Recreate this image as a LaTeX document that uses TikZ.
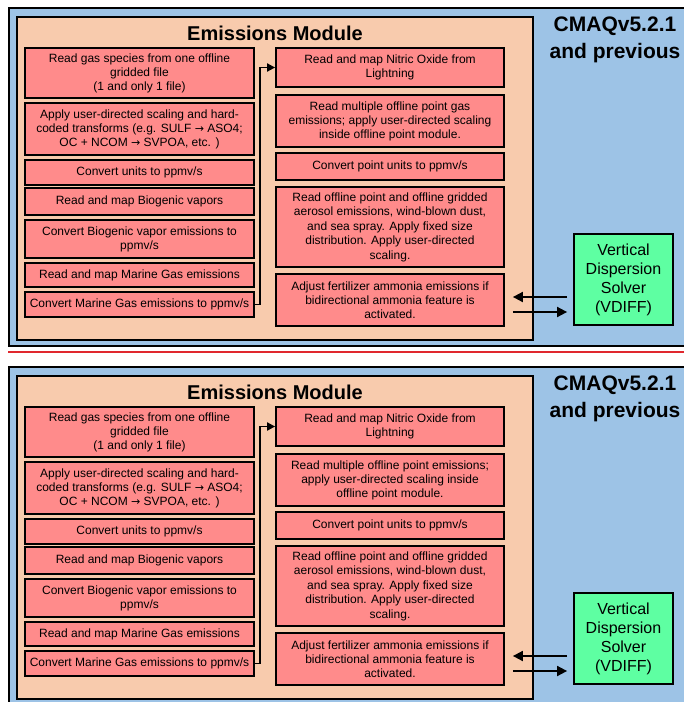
\documentclass[tikz,border=0pt]{standalone}
\usepackage{fontspec}
\setmainfont{Liberation Sans}
\newfontfamily\arrowfont{DejaVu Sans}
\newcommand{\tto}{{\arrowfont\fontsize{11}{14}\selectfont →}}
\usepackage{tikz}
\usetikzlibrary{arrows.meta}
\definecolor{cmaqblue}{HTML}{9DC3E6}
\definecolor{modpeach}{HTML}{F8CBAD}
\definecolor{procred}{HTML}{FF8B8B}
\definecolor{solvgreen}{HTML}{5EFFA2}
\definecolor{seprule}{HTML}{E0282E}

\begin{document}
\begin{tikzpicture}[x=1pt, y=-1pt,
  proc/.style={draw, fill=procred, line width=1.8pt, align=center, inner sep=1pt, font=\fontsize{12}{14}\selectfont},
  leftproc/.style={proc, minimum width=229pt},
  rightproc/.style={proc, minimum width=228pt},
  solver/.style={draw, fill=solvgreen, line width=1.8pt, align=center, minimum width=99pt, minimum height=91pt, font=\fontsize{16}{19}\selectfont},
  modtitle/.style={font=\fontsize{20}{22}\selectfont\bfseries},
  version/.style={font=\fontsize{21}{27}\selectfont\bfseries, align=center},
  flow/.style={-{Triangle[length=8pt,width=8pt]}, line width=1.8pt},
  bigflow/.style={-{Triangle[length=10pt,width=10pt]}, line width=1.8pt}]
\useasboundingbox (0,0) rectangle (684,702);
\clip (0,0) rectangle (684,702);
%
% upper panel
\draw[fill=cmaqblue, line width=1.8pt] (9,8) rectangle (690,346);
\draw[fill=modpeach, line width=1.8pt] (17,17) rectangle (533,340);
\node[modtitle](emis1) at (275,33) {Emissions Module};
\node[version](cmaq1) at (615,40) {CMAQv5.2.1\\and previous};
%
\node[leftproc, minimum height=50pt](gas1) at (139.5,73) {Read gas species from one offline\\gridded file\\(1 and only 1 file)};
\node[leftproc, minimum height=52pt](scale1) at (139.5,129) {Apply user-directed scaling and hard-\\coded transforms (e.g. SULF \tto{} ASO4;\\OC + NCOM \tto{} SVPOA, etc. )};
\node[leftproc, minimum height=25pt](units1) at (139.5,172.5) {Convert units to ppmv/s};
\node[leftproc, minimum height=27pt](bio1) at (139.5,201.5) {Read and map Biogenic vapors};
\node[leftproc, minimum height=38pt](bioconv1) at (139.5,239) {Convert Biogenic vapor emissions to\\ppmv/s};
\node[leftproc, minimum height=24pt](marine1) at (139.5,275) {Read and map Marine Gas emissions};
\node[leftproc, minimum height=25pt](mgconv1) at (139.5,304.5) {Convert Marine Gas emissions to ppmv/s};
%
\node[rightproc, minimum height=39pt](lnox1) at (390,67.5) {Read and map Nitric Oxide from\\Lightning};
\node[rightproc, minimum height=52pt](ptgas1) at (390,121) {Read multiple offline point gas\\emissions; apply user-directed scaling\\inside offline point module.};
\node[rightproc, minimum height=27pt](ptunits1) at (390,166.5) {Convert point units to ppmv/s};
\node[rightproc, minimum height=80pt, font=\fontsize{12}{14.5}\selectfont](aero1) at (390,227) {Read offline point and offline gridded\\aerosol emissions, wind-blown dust,\\and sea spray. Apply fixed size\\distribution. Apply user-directed\\scaling.};
\node[rightproc, minimum height=52pt](fert1) at (390,300) {Adjust fertilizer ammonia emissions if\\bidirectional ammonia feature is\\activated.};
\node[solver](vdiff1) at (623.5,279.5) {Vertical\\Dispersion\\Solver\\(VDIFF)};
%
\draw[flow](mgconv1.east) -- ++(5,0) |- (lnox1.west);
\draw[bigflow]([xshift=-6pt,yshift=-17.5pt]vdiff1.west) -- ([xshift=8pt,yshift=3pt]fert1.east);
\draw[bigflow]([xshift=8pt,yshift=-12pt]fert1.east) -- ([xshift=-6pt,yshift=-32.5pt]vdiff1.west);
%
\draw[seprule, line width=1.2pt] (8,352) -- (690,352);
%
% lower panel
\draw[fill=cmaqblue, line width=1.8pt] (9,367) rectangle (690,706);
\draw[fill=modpeach, line width=1.8pt] (17,376) rectangle (533,699);
\node[modtitle](emis2) at (275,392) {Emissions Module};
\node[version](cmaq2) at (615,399) {CMAQv5.2.1\\and previous};
%
\node[leftproc, minimum height=50pt](gas2) at (139.5,432) {Read gas species from one offline\\gridded file\\(1 and only 1 file)};
\node[leftproc, minimum height=52pt](scale2) at (139.5,488) {Apply user-directed scaling and hard-\\coded transforms (e.g. SULF \tto{} ASO4;\\OC + NCOM \tto{} SVPOA, etc. )};
\node[leftproc, minimum height=25pt](units2) at (139.5,531.5) {Convert units to ppmv/s};
\node[leftproc, minimum height=27pt](bio2) at (139.5,560.5) {Read and map Biogenic vapors};
\node[leftproc, minimum height=38pt](bioconv2) at (139.5,598) {Convert Biogenic vapor emissions to\\ppmv/s};
\node[leftproc, minimum height=24pt](marine2) at (139.5,634) {Read and map Marine Gas emissions};
\node[leftproc, minimum height=25pt](mgconv2) at (139.5,663.5) {Convert Marine Gas emissions to ppmv/s};
%
\node[rightproc, minimum height=39pt](lnox2) at (390,426.5) {Read and map Nitric Oxide from\\Lightning};
\node[rightproc, minimum height=52pt](ptgas2) at (390,480) {Read multiple offline point emissions;\\apply user-directed scaling inside\\offline point module.};
\node[rightproc, minimum height=27pt](ptunits2) at (390,525.5) {Convert point units to ppmv/s};
\node[rightproc, minimum height=80pt, font=\fontsize{12}{14.5}\selectfont](aero2) at (390,586) {Read offline point and offline gridded\\aerosol emissions, wind-blown dust,\\and sea spray. Apply fixed size\\distribution. Apply user-directed\\scaling.};
\node[rightproc, minimum height=52pt](fert2) at (390,659) {Adjust fertilizer ammonia emissions if\\bidirectional ammonia feature is\\activated.};
\node[solver](vdiff2) at (623.5,638.5) {Vertical\\Dispersion\\Solver\\(VDIFF)};
%
\draw[flow](mgconv2.east) -- ++(5,0) |- (lnox2.west);
\draw[bigflow]([xshift=-6pt,yshift=-17.5pt]vdiff2.west) -- ([xshift=8pt,yshift=3pt]fert2.east);
\draw[bigflow]([xshift=8pt,yshift=-12pt]fert2.east) -- ([xshift=-6pt,yshift=-32.5pt]vdiff2.west);
\end{tikzpicture}
\end{document}
